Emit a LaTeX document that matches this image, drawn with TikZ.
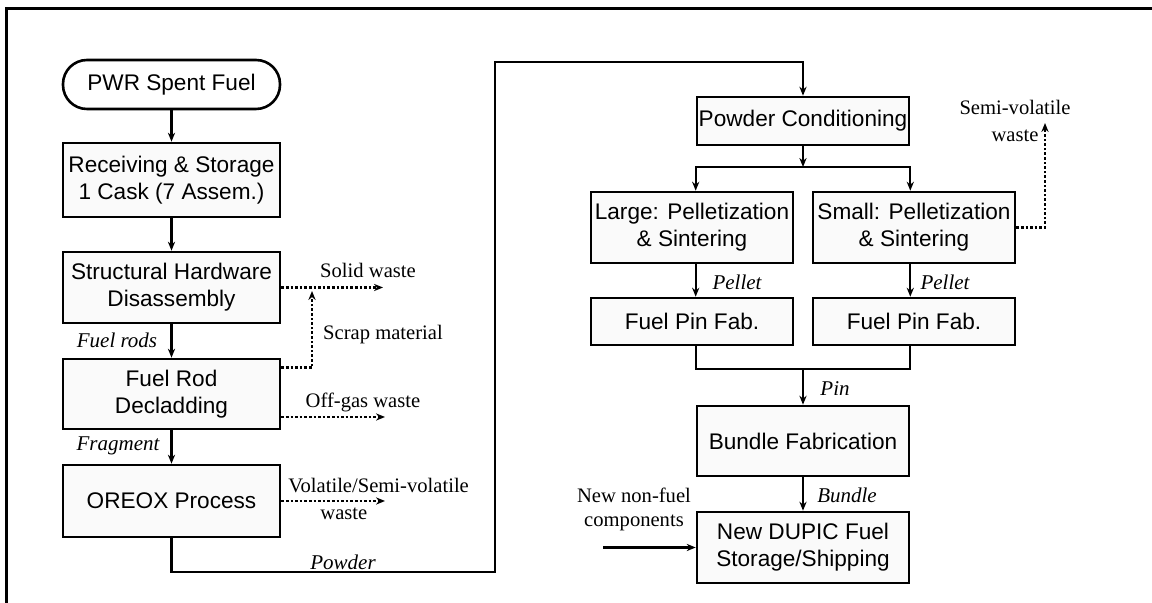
\documentclass[tikz,border=0pt]{standalone}
\usepackage{fontspec}
\setmainfont{Liberation Serif}
\setsansfont{Liberation Sans}
\usetikzlibrary{arrows.meta,calc,positioning}
\tikzset{
    % Base process box
    procnode/.style={
        draw=black,
        fill=black!2,
        line width=1.3pt,
        inner sep=0pt,
        align=center,
        font=\sffamily\fontsize{11.3}{13.5}\selectfont
    },
    % Left column box
    mainbox/.style={
        procnode,
        minimum width=108.5pt
    },
    % Pellet line box
    linebox/.style={
        procnode,
        minimum width=101pt
    },
    % Right column box
    centrebox/.style={
        procnode,
        minimum width=106pt
    },
    % Start terminal
    startnode/.style={
        procnode,
        fill=white,
        rounded corners=12pt,
        minimum width=108.5pt,
        minimum height=24.5pt
    },
    % Arrow styles
    flowarrow/.style={
        -{Stealth[length=4.5pt,width=3.6pt]},
        line width=1.1pt
    },
    flowline/.style={
        line width=1.1pt
    },
    wastearrow/.style={
        -{Stealth[length=4.5pt,width=3.6pt]},
        line width=1.3pt,
        dash pattern=on 1.3pt off 1pt
    },
    % Labels
    wastelabel/.style={
        font=\fontsize{10.3}{13.5}\selectfont,
        align=center,
        inner sep=0pt
    },
    flowlabel/.style={
        font=\itshape\fontsize{10.5}{12}\selectfont,
        inner sep=0pt
    }
}

\begin{document}
\begin{tikzpicture}[x=0.5pt, y=-0.5pt]
        \useasboundingbox (0,0) rectangle (1152,603);
        % Frame
        \draw[line width=1.4pt] (6.5,603) -- (6.5,8.5) -- (1152,8.5);

        % Left column
        \node[startnode] (pwr) at (171.5,84.5) {PWR Spent Fuel};
        \node[mainbox, minimum height=37pt] (recv) at (171.5,180) {Receiving \& Storage\\1 Cask (7 Assem.)};
        \node[mainbox, minimum height=35.5pt] (struct) at (171.5,287.5) {Structural Hardware\\Disassembly};
        \node[mainbox, minimum height=35pt] (declad) at (171.5,394) {Fuel Rod\\Decladding};
        \node[mainbox, minimum height=36pt] (oreox) at (171.5,501) {OREOX Process};

        % Right column
        \node[centrebox, minimum height=24pt] (powcond) at (803,121) {Powder Conditioning};
        \node[linebox, minimum height=35.5pt] (large) at (692,227.5) {Large: Pelletization\\\& Sintering};
        \node[linebox, minimum height=35.5pt] (small) at (914,227.5) {Small: Pelletization\\\& Sintering};
        \node[linebox, minimum height=23.5pt] (pinL) at (692,321.5) {Fuel Pin Fab.};
        \node[linebox, minimum height=23.5pt] (pinS) at (914,321.5) {Fuel Pin Fab.};
        \node[centrebox, minimum height=35pt] (bundle) at (803,441) {Bundle Fabrication};
        \node[centrebox, minimum height=35.5pt] (dupic) at (803,547.5) {New DUPIC Fuel\\Storage/Shipping};

        % Coordinates
        \coordinate (pbend1) at (495,572);
        \coordinate (pbend2) at (495,62);
        \coordinate (split) at (803,167);
        \coordinate (merge) at (803,369);
        \coordinate (nfstart) at (603,547.5);
        \coordinate (solidend) at (383,287.5);
        \coordinate (scrapend) at (312,291);
        \coordinate (offgasend) at (385,417);
        \coordinate (volend) at (385,501);
        \coordinate (semiend) at (1045,123);

        % Main flow
        \draw[flowarrow] (pwr) -- (recv);
        \draw[flowarrow] (recv) -- (struct);
        \draw[flowarrow] (struct) -- (declad);
        \draw[flowarrow] (declad) -- (oreox);
        \draw[flowarrow] (oreox.south) |- (pbend1) -- (pbend2) -| (powcond.north);
        \draw[flowarrow] (powcond) -- (split);
        \draw[flowarrow] (split) -| (powcond.west |- large.north);
        \draw[flowarrow] (split) -| (powcond.east |- small.north);
        \draw[flowarrow] (powcond.west |- large.south) -- (powcond.west |- pinL.north);
        \draw[flowarrow] (powcond.east |- small.south) -- (powcond.east |- pinS.north);
        \draw[flowline] (powcond.west |- pinL.south) |- (merge) -| (powcond.east |- pinS.south);
        \draw[flowarrow] (merge) -- (bundle);
        \draw[flowarrow] (bundle) -- (dupic);
        \draw[flowarrow] (nfstart) -- (dupic.west);

        % Waste streams
        \draw[wastearrow] (struct.east) -- (solidend);
        \draw[wastearrow] ($(declad.north east)+(0,10)$) -| (scrapend);
        \draw[wastearrow] (declad.east |- offgasend) -- (offgasend);
        \draw[wastearrow] (oreox.east) -- (volend);
        \draw[wastearrow] (small.east) -| (semiend);

        % Waste labels
        \node[wastelabel] (lsolid) at (368,270) {Solid waste};
        \node[wastelabel] (lscrap) at (383,335) {Scrap material};
        \node[wastelabel] (loffgas) at (363,402) {Off-gas waste};
        \node[wastelabel, align=left, anchor=west] (lvol) at (288,499) {Volatile/Semi-volatile\\\hspace*{16pt}waste};
        \node[wastelabel] (lsemi) at (1015,121) {Semi-volatile\\waste};
        \node[wastelabel, font=\fontsize{10.3}{12}\selectfont] (lnonfuel) at (634,509) {New non-fuel\\components};

        % Flow labels
        \node[flowlabel] (lrods) at (117,340) {Fuel rods};
        \node[flowlabel] (lfrag) at (118,446) {Fragment};
        \node[flowlabel] (lpowder) at (343,562) {Powder};
        \node[flowlabel] (lpelletL) at (737,282) {Pellet};
        \node[flowlabel] (lpelletS) at (945,282) {Pellet};
        \node[flowlabel] (lpin) at (835,389) {Pin};
        \node[flowlabel] (lbundle) at (847,495) {Bundle};
    \end{tikzpicture}
\end{document}
